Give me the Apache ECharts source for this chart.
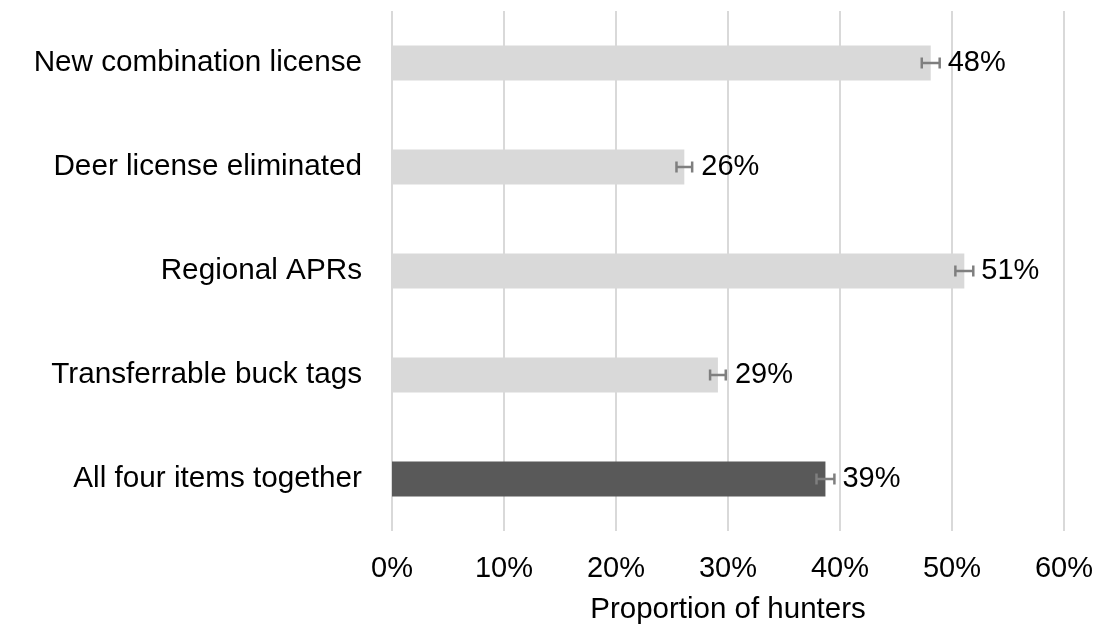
<!DOCTYPE html>
<html>
<head>
<meta charset="utf-8">
<script src="https://cdn.jsdelivr.net/npm/echarts@6/dist/echarts.min.js"></script>
<style>
html,body{margin:0;padding:0;background:#fff;}
#chart{width:1097px;height:627px;}
</style>
</head>
<body>
<div id="chart"></div>
<script>
const categories = ["New combination license", "Deer license eliminated", "Regional APRs", "Transferrable buck tags", "All four items together"];
const values = [48.1, 26.1, 51.1, 29.1, 38.7];
const errors = [0.8, 0.7, 0.8, 0.7, 0.8];
const barColors = ["#d9d9d9", "#d9d9d9", "#d9d9d9", "#d9d9d9", "#595959"];
const xTicks = [0, 10, 20, 30, 40, 50, 60];
const xAxisName = "Proportion of hunters";

const FONT = "'Liberation Sans', Arial, sans-serif";
const chart = echarts.init(document.getElementById('chart'));

const option = {
  animation: false,
  backgroundColor: '#ffffff',
  textStyle: { fontFamily: FONT },
  grid: { left: 392, right: 33, top: 11, bottom: 96, containLabel: false, outerBoundsMode: 'none' },
  xAxis: {
    type: 'value',
    min: xTicks[0],
    max: xTicks[xTicks.length - 1],
    interval: xTicks[1] - xTicks[0],
    name: xAxisName,
    nameLocation: 'middle',
    nameGap: 64,
    nameTextStyle: { fontSize: 29.5, color: '#000', fontFamily: FONT },
    axisLine: { show: false },
    axisTick: { show: false },
    axisLabel: { formatter: '{value}%', fontSize: 29, color: '#000', margin: 23, fontFamily: FONT },
    splitLine: { show: true, lineStyle: { color: '#d9d9d9', width: 2 } }
  },
  yAxis: {
    type: 'category',
    data: categories,
    inverse: true,
    axisLine: { show: false },
    axisTick: { show: false },
    axisLabel: { fontSize: 29.7, color: '#000', margin: 30, fontFamily: FONT },
    splitLine: { show: false }
  },
  series: [
    {
      type: 'bar',
      barWidth: 35,
      data: values.map((v, i) => ({ value: v, itemStyle: { color: barColors[i] } })),
      label: {
        show: true,
        position: 'right',
        distance: 17,
        fontSize: 29,
        color: '#000',
        fontFamily: FONT,
        formatter: p => Math.round(p.value) + '%'
      },
      z: 2
    },
    {
      type: 'custom',
      data: values.map((v, i) => [i, v - errors[i], v + errors[i]]),
      encode: { y: 0, x: [1, 2] },
      renderItem: function (params, api) {
        const cat = api.value(0);
        const lo = api.coord([api.value(1), cat]);
        const hi = api.coord([api.value(2), cat]);
        const cap = 5.5;
        const style = { stroke: '#7f7f7f', lineWidth: 2.5 };
        return {
          type: 'group',
          children: [
            { type: 'line', shape: { x1: lo[0], y1: lo[1], x2: hi[0], y2: hi[1] }, style: style },
            { type: 'line', shape: { x1: lo[0], y1: lo[1] - cap, x2: lo[0], y2: lo[1] + cap }, style: style },
            { type: 'line', shape: { x1: hi[0], y1: hi[1] - cap, x2: hi[0], y2: hi[1] + cap }, style: style }
          ]
        };
      },
      z: 3
    }
  ]
};
chart.setOption(option);
</script>
</body>
</html>
